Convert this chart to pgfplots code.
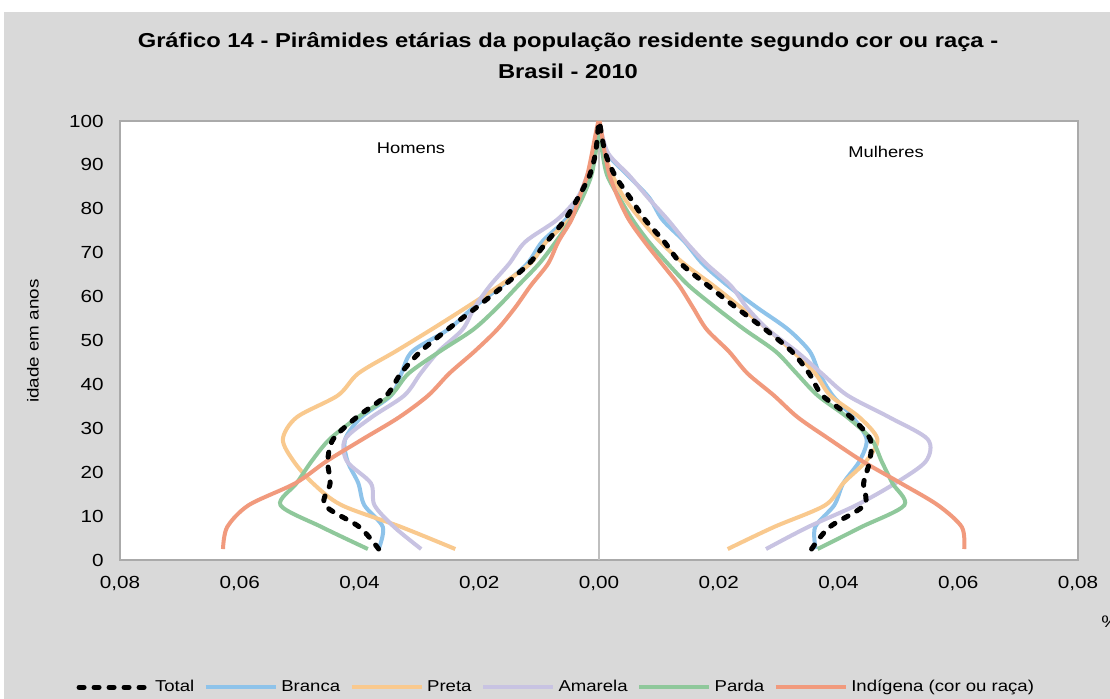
\documentclass[border=0pt]{standalone}
\usepackage{pgfplots}
\pgfplotsset{compat=1.18}
\usepackage{pgfplotstable}
\usepackage{fontspec}
\setmainfont{Liberation Sans}[FakeStretch=1.18]

\definecolor{bggray}{RGB}{217,217,217}
\definecolor{axgray}{RGB}{170,170,170}
\definecolor{midgray}{RGB}{191,191,191}
\definecolor{cB}{RGB}{142,195,234}
\definecolor{cP}{RGB}{249,201,142}
\definecolor{cA}{RGB}{200,195,226}
\definecolor{cPa}{RGB}{143,200,155}
\definecolor{cI}{RGB}{241,154,125}

\pgfplotstableread{
age  TM      TF      BM      BF      PM      PF      AM      AF      PaM     PaF     IM      IF
2.5  0.0368  0.0355  0.0368  0.0362  0.0240  0.0215  0.0297  0.0279  0.0386  0.0365  0.0628  0.0610
7.5  0.0400  0.0385  0.0361  0.0361  0.0330  0.0292  0.0342  0.0349  0.0463  0.0438  0.0621  0.0606
12.5 0.0458  0.0443  0.0392  0.0393  0.0430  0.0378  0.0375  0.0430  0.0532  0.0510  0.0585  0.0566
17.5 0.0449  0.0442  0.0402  0.0408  0.0478  0.0408  0.0381  0.0495  0.0505  0.0490  0.0507  0.0504
22.5 0.0453  0.0452  0.0420  0.0435  0.0510  0.0446  0.0421  0.0546  0.0480  0.0472  0.0455  0.0440
27.5 0.0444  0.0453  0.0424  0.0447  0.0528  0.0465  0.0424  0.0549  0.0450  0.0455  0.0395  0.0385
32.5 0.0405  0.0421  0.0397  0.0424  0.0505  0.0435  0.0380  0.0485  0.0403  0.0415  0.0334  0.0332
37.5 0.0355  0.0373  0.0347  0.0390  0.0436  0.0386  0.0325  0.0415  0.0348  0.0365  0.0285  0.0292
42.5 0.0331  0.0351  0.0330  0.0368  0.0402  0.0361  0.0298  0.0372  0.0318  0.0330  0.0250  0.0248
47.5 0.0298  0.0322  0.0312  0.0352  0.0340  0.0324  0.0268  0.0330  0.0266  0.0295  0.0208  0.0217
52.5 0.0253  0.0278  0.0252  0.0316  0.0280  0.0282  0.0228  0.0282  0.0210  0.0243  0.0170  0.0180
57.5 0.0205  0.0229  0.0210  0.0264  0.0222  0.0237  0.0208  0.0247  0.0170  0.0195  0.0140  0.0157
62.5 0.0159  0.0182  0.0162  0.0215  0.0166  0.0191  0.0182  0.0220  0.0135  0.0150  0.0114  0.0134
67.5 0.0117  0.0137  0.0120  0.0173  0.0115  0.0142  0.0150  0.0179  0.0100  0.0115  0.0085  0.0105
72.5 0.0087  0.0109  0.0095  0.0143  0.0088  0.0102  0.0123  0.0145  0.0072  0.0083  0.0068  0.0076
77.5 0.0057  0.0077  0.0056  0.0106  0.0050  0.0070  0.0070  0.0115  0.0047  0.0056  0.0046  0.0050
82.5 0.0035  0.0052  0.0031  0.0084  0.0028  0.0042  0.0036  0.0082  0.0028  0.0034  0.0033  0.0032
87.5 0.0016  0.0027  0.0016  0.0049  0.0015  0.0023  0.0020  0.0051  0.0013  0.0014  0.0020  0.0018
92.5 0.0006  0.0011  0.0008  0.0014  0.0006  0.0009  0.0009  0.0016  0.0006  0.0006  0.0012  0.0010
97.5 0.0002  0.00035 0.0002  0.0003  0.0002  0.0003  0.0003  0.0004  0.0002  0.0002  0.0005  0.0004
100  0.00004 0.00009 0.00005 0.00005 0.00004 0.00005 0.00006 0.0001  0.00003 0.00003 0.0001  0.0001
}\data

\begin{document}
\begin{tikzpicture}[x=1bp,y=1bp]
\useasboundingbox (0bp,0bp) rectangle (555bp,349.5bp);
\fill[white] (0bp,0bp) rectangle (555bp,349.5bp);
\fill[bggray] (2bp,0bp) rectangle (555bp,343.5bp);
\begin{axis}[
  at={(60bp,69.5bp)}, anchor=south west,
  scale only axis, width=479bp, height=219.5bp,
  xmin=-0.08, xmax=0.08, ymin=0, ymax=100,
  xtick={-0.08,-0.06,-0.04,-0.02,0,0.02,0.04,0.06,0.08},
  xticklabels={{0,08},{0,06},{0,04},{0,02},{0,00},{0,02},{0,04},{0,06},{0,08}},
  ytick={0,10,...,100},
  major tick length=0pt,
  axis background/.style={fill=white},
  axis line style={draw=axgray, line width=1bp},
  tick label style={font=\fontsize{8.8}{10}\selectfont},
  yticklabel style={anchor=east, inner sep=0pt, xshift=-8bp},
  xticklabel style={anchor=center, inner sep=0pt, yshift=-11.75bp},
  /pgf/number format/assume math mode=true,
  scaled x ticks=false,
  legend columns=6,
  legend style={at={(axis description cs:0.4562,-0.29)}, anchor=center,
    draw=none, fill=none, font=\fontsize{7.9}{9.5}\selectfont,
    /tikz/every even column/.append style={column sep=3bp},
    nodes={inner sep=1.75bp}},
  legend image code/.code={\draw[#1] (0bp,0bp) -- (35bp,0bp);},
  every axis plot/.append style={line width=2bp, smooth, tension=0.5},
]
\addplot[midgray, line width=1bp, forget plot, sharp plot] coordinates {(0,0) (0,100)};

\addlegendimage{black, line width=2.5bp, dash pattern=on 2.5bp off 5bp, line cap=round}
\addlegendentry{Total}

\addplot[cB] table[x expr=-\thisrow{BM}, y=age]{\data};
\addlegendentry{Branca}
\addplot[cB, forget plot] table[x=BF, y=age]{\data};

\addplot[cP] table[x expr=-\thisrow{PM}, y=age]{\data};
\addlegendentry{Preta}
\addplot[cP, forget plot] table[x=PF, y=age]{\data};

\addplot[cA] table[x expr=-\thisrow{AM}, y=age]{\data};
\addlegendentry{Amarela}
\addplot[cA, forget plot] table[x=AF, y=age]{\data};

\addplot[cPa] table[x expr=-\thisrow{PaM}, y=age]{\data};
\addlegendentry{Parda}
\addplot[cPa, forget plot] table[x=PaF, y=age]{\data};

\addplot[cI] table[x expr=-\thisrow{IM}, y=age]{\data};
\addlegendentry{Indígena (cor ou raça)}
\addplot[cI, forget plot] table[x=IF, y=age]{\data};

\addplot[black, line width=2.5bp, dash pattern=on 2.5bp off 5bp, line cap=round, forget plot] table[x expr=-\thisrow{TM}, y=age]{\data};
\addplot[black, line width=2.5bp, dash pattern=on 2.5bp off 5bp, line cap=round, forget plot] table[x=TF, y=age]{\data};
\end{axis}

\node[font=\fontsize{10.1}{12}\selectfont\bfseries] at (284bp,328.5bp) {Gráfico 14 - Pirâmides etárias da população residente segundo cor ou raça -};
\node[font=\fontsize{10.1}{12}\selectfont\bfseries] at (284bp,314bp) {Brasil - 2010};
\node[font=\fontsize{7.8}{9}\selectfont] at (205.5bp,275.5bp) {Homens};
\node[font=\fontsize{7.8}{9}\selectfont] at (443bp,273.5bp) {Mulheres};
\node[font=\fontsize{8}{9}\selectfont, rotate=90] at (16.5bp,179bp) {idade em anos};
\node[font=\fontsize{8.4}{10}\selectfont, anchor=west, inner sep=0pt] at (550.5bp,38.5bp) {\%};
\end{tikzpicture}
\end{document}
